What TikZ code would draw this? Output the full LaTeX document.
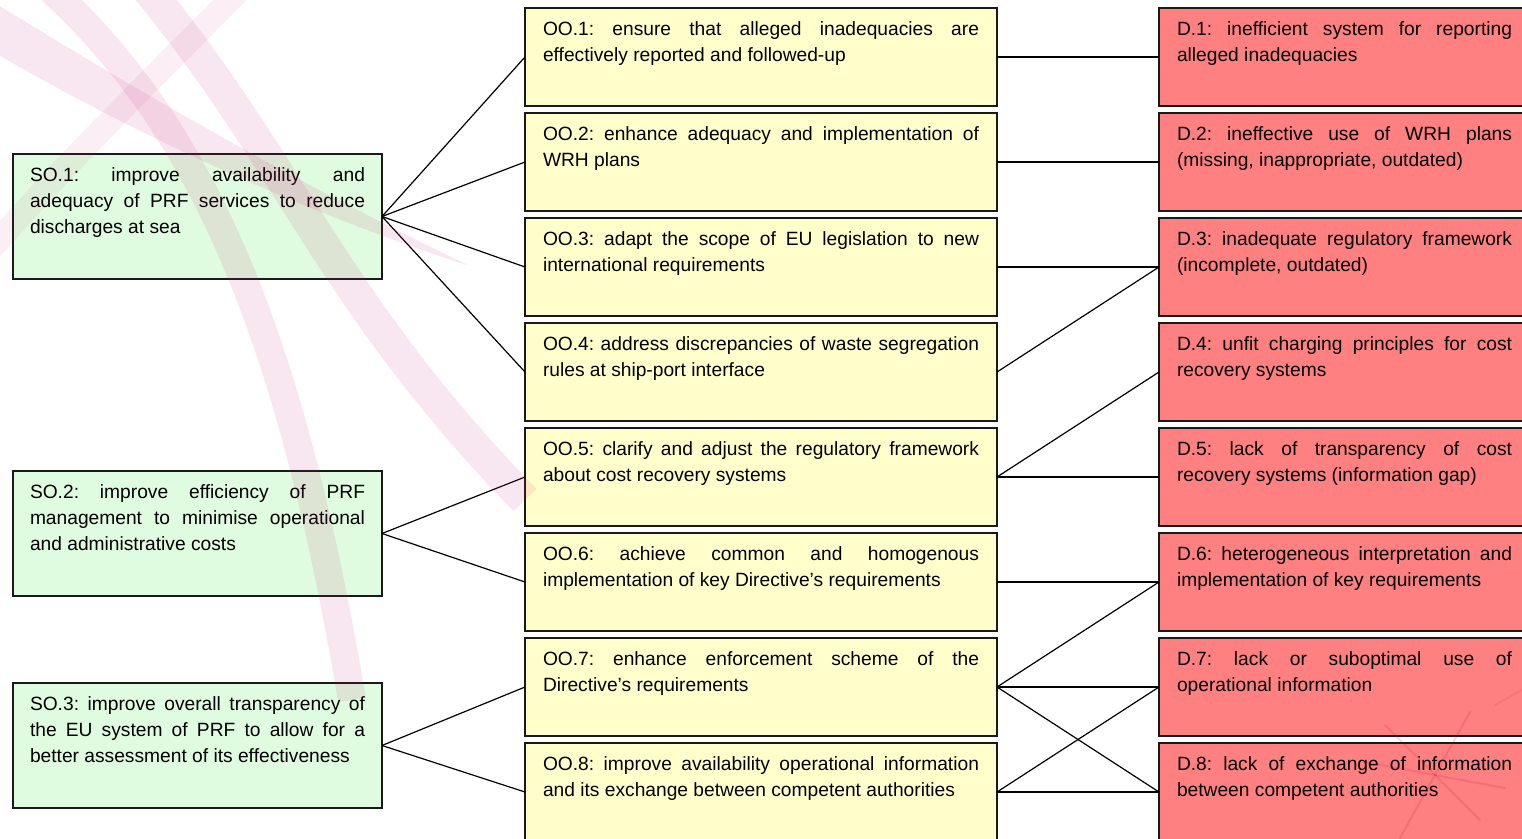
\documentclass[tikz,border=0pt]{standalone}
\usepackage{fontspec}
\setmainfont{Liberation Sans}
\definecolor{sogreen}{HTML}{E0FCE0}
\definecolor{ooyellow}{HTML}{FFFFCC}
\definecolor{dred}{HTML}{FF8080}
\definecolor{swpink}{HTML}{C8287A}
\definecolor{starred}{HTML}{C8003C}
\newcommand\btext[3]{\parbox[c][#1][t]{#2}{\fontsize{19.2pt}{26pt}\selectfont\frenchspacing\hyphenpenalty=10000 \exhyphenpenalty=10000 \rule{0pt}{27.5pt}#3}}
\tikzset{
  box/.style={draw=black!90, line width=1.3pt, anchor=north west, inner xsep=18pt, inner ysep=0pt, outer sep=0pt},
  so/.style={box, fill=sogreen, inner xsep=17pt},
  oo/.style={box, fill=ooyellow},
  dd/.style={box, fill=dred},
  link/.style={draw=black, line width=1.2pt},
  swoosh/.style={draw=swpink, opacity=0.11},
  starline/.style={draw=starred, line cap=round, opacity=0.14, line width=2pt}
}
\begin{document}
\begin{tikzpicture}[x=1pt,y=-1pt]
\useasboundingbox (0,0) rectangle (1522,838);
\clip (0,0) rectangle (1522,838);
\fill[white] (0,0) rectangle (1522,838);
% strategic objectives
\node[so] (so1) at (13,154) {\btext{125pt}{335pt}{SO.1: improve availability and\linebreak adequacy of PRF services to reduce\linebreak discharges at sea}};
\node[so] (so2) at (13,471) {\btext{125pt}{335pt}{SO.2: improve efficiency of PRF\linebreak management to minimise operational\linebreak and administrative costs}};
\node[so] (so3) at (13,683) {\btext{125pt}{335pt}{SO.3: improve overall transparency of\linebreak the EU system of PRF to allow for a\linebreak better assessment of its effectiveness}};
% operational objectives
\node[oo] (oo1) at (525,8) {\btext{98pt}{436pt}{OO.1: ensure that alleged inadequacies are\linebreak effectively reported and followed-up}};
\node[oo] (oo2) at (525,113) {\btext{98pt}{436pt}{OO.2: enhance adequacy and implementation of\linebreak WRH plans}};
\node[oo] (oo3) at (525,218) {\btext{98pt}{436pt}{OO.3: adapt the scope of EU legislation to new\linebreak international requirements}};
\node[oo] (oo4) at (525,323) {\btext{98pt}{436pt}{OO.4: address discrepancies of waste segregation\linebreak rules at ship-port interface}};
\node[oo] (oo5) at (525,428) {\btext{98pt}{436pt}{OO.5: clarify and adjust the regulatory framework\linebreak about cost recovery systems}};
\node[oo] (oo6) at (525,533) {\btext{98pt}{436pt}{OO.6: achieve common and homogenous\linebreak implementation of key Directive's requirements}};
\node[oo] (oo7) at (525,638) {\btext{98pt}{436pt}{OO.7: enhance enforcement scheme of the\linebreak Directive's requirements}};
\node[oo] (oo8) at (525,743) {\btext{98pt}{436pt}{OO.8: improve availability operational information\linebreak and its exchange between competent authorities}};
% drivers
\node[dd] (d1) at (1159,8) {\btext{98pt}{335pt}{D.1: inefficient system for reporting\linebreak alleged inadequacies}};
\node[dd] (d2) at (1159,113) {\btext{98pt}{335pt}{D.2: ineffective use of WRH plans\linebreak (missing, inappropriate, outdated)}};
\node[dd] (d3) at (1159,218) {\btext{98pt}{335pt}{D.3: inadequate regulatory framework\linebreak (incomplete, outdated)}};
\node[dd] (d4) at (1159,323) {\btext{98pt}{335pt}{D.4: unfit charging principles for cost\linebreak recovery systems}};
\node[dd] (d5) at (1159,428) {\btext{98pt}{335pt}{D.5: lack of transparency of cost\linebreak recovery systems (information gap)}};
\node[dd] (d6) at (1159,533) {\btext{98pt}{335pt}{D.6: heterogeneous interpretation and\linebreak implementation of key requirements}};
\node[dd] (d7) at (1159,638) {\btext{98pt}{335pt}{D.7: lack or suboptimal use of\linebreak operational information}};
\node[dd] (d8) at (1159,743) {\btext{98pt}{335pt}{D.8: lack of exchange of information\linebreak between competent authorities}};
% connectors SO -> OO
\draw[link] (so1.east) -- (oo1.west);
\draw[link] (so1.east) -- (oo2.west);
\draw[link] (so1.east) -- (oo3.west);
\draw[link] (so1.east) -- (oo4.west);
\draw[link] (so2.east) -- (oo5.west);
\draw[link] (so2.east) -- (oo6.west);
\draw[link] (so3.east) -- (oo7.west);
\draw[link] (so3.east) -- (oo8.west);
% connectors OO -> D
\draw[link] (oo1.east) -- (d1.west);
\draw[link] (oo2.east) -- (d2.west);
\draw[link] (oo3.east) -- (d3.west);
\draw[link] (oo4.east) -- (d3.west);
\draw[link] (oo5.east) -- (d4.west);
\draw[link] (oo5.east) -- (d5.west);
\draw[link] (oo6.east) -- (d6.west);
\draw[link] (oo7.east) -- (d6.west);
\draw[link] (oo7.east) -- (d7.west);
\draw[link] (oo7.east) -- (d8.west);
\draw[link] (oo8.east) -- (d7.west);
\draw[link] (oo8.east) -- (d8.west);
% decorative background swooshes
\fill[swpink, opacity=0.11] (-10,0) .. controls (120,80) and (280,175) .. (470,266)
      .. controls (280,205) and (110,120) .. (-10,50) -- cycle;
\draw[swoosh, line width=28pt] (40,-20) .. controls (200,120) and (290,330) .. (352,700);
\draw[swoosh, line width=32pt] (140,-20) .. controls (290,160) and (330,300) .. (525,500);
\draw[swoosh, line width=24pt, opacity=0.07] (240,-10) .. controls (150,80) and (60,170) .. (-10,250);
% faint star
\draw[starline] (1385,725) -- (1480,820);
\draw[starline] (1400,838) -- (1470,712);
\draw[starline] (1365,762) -- (1505,788);
\draw[starline, opacity=0.08] (1495,705) -- (1522,690);
\end{tikzpicture}
\end{document}
